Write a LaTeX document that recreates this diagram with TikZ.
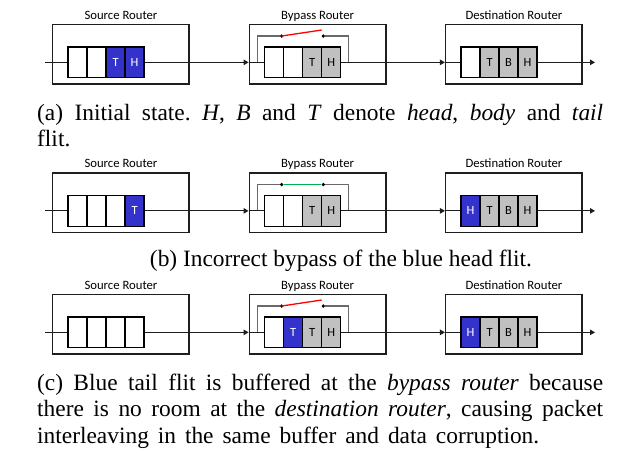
\documentclass[tikz,border=0pt]{standalone}
\usepackage{fontspec}
\setmainfont{Liberation Serif}
\newfontfamily\calib{Carlito}
\usetikzlibrary{arrows.meta}
\frenchspacing
\definecolor{bluef}{RGB}{51,51,204}
\definecolor{greyf}{RGB}{192,192,192}
\definecolor{bypassc}{RGB}{105,105,105}
\definecolor{redsw}{RGB}{255,0,0}
\definecolor{greensw}{RGB}{0,176,80}
\definecolor{linec}{RGB}{30,30,30}
\tikzset{
  routerbox/.style={draw=linec, line width=1.5pt, minimum width=136.5pt, minimum height=59.7pt, inner sep=0pt},
  rtitle/.style={font=\calib\fontsize{12.7}{14}\selectfont, anchor=base, inner sep=0pt},
  cell/.style={draw=black, line width=1.3pt, minimum width=19pt, minimum height=30.7pt, inner sep=0pt, font=\calib\fontsize{12.5}{14}\selectfont},
  mainline/.style={draw=linec, line width=1pt},
  arr/.style={-{Triangle[length=5pt,width=5.5pt]}},
  bypassline/.style={draw=bypassc, line width=1.3pt},
  dot/.style={circle, fill=black, inner sep=0pt, minimum size=3.6pt},
  redline/.style={draw=redsw, line width=1.3pt},
  greenline/.style={draw=greensw, line width=1.5pt},
  captext/.style={font=\fontsize{23.4}{26.7}\selectfont, inner sep=0pt, anchor=base west}
}
% #1 name, #2 left x, #3 dy, #4 title, #5 cells
\newcommand\router[5]{%
  \node[routerbox] (#1) at (#2+68.25, #3+54.15) {};
  \node[rtitle] (#1t) at (#2+68.25, #3+19.3) {#4};
  \foreach \f/\tc/\t [count=\i] in {#5} {
    \node[cell, fill=\f, text=\tc] (#1c\i) at (#2+15.4+9.5+19*\i-19, #3+62.35) {\t};
  }%
}
% bypass path: #1 name, #2 left x, #3 dy, #4 state (0 open, 1 closed)
\newcommand\bypasspath[4]{%
  \coordinate (#1b1) at (#2+8, #3+62.35);
  \coordinate (#1b2) at (#2+99, #3+62.35);
  \node[dot] (#1d1) at (#2+32.4, #3+36) {};
  \node[dot] (#1d2) at (#2+74, #3+36) {};
  \draw[bypassline] (#1b1) |- (#1d1);
  \draw[bypassline] (#1d2) -| (#1b2);
  \ifnum#4=0
    \draw[redline] (#1d1.center) -- ++(40,-6) coordinate (#1s);
  \else
    \draw[greenline] (#1d1) -- (#1d2);
  \fi
}
\newcommand\links[2]{% #1 dy, #2 prefix
  \coordinate (#2in) at (45, #1+62.35);
  \coordinate (#2out) at (595, #1+62.35);
  \draw[mainline] (#2in) -- (#2sc1.west);
  \draw[mainline,arr] (#2sc4.east) -- (#2sc4.east -| #2b.west);
  \draw[mainline] (#2b.west |- #2bc1.west) -- (#2bc1.west);
  \draw[mainline] (#2bc4.east) -- (#2bb2);
  \draw[mainline,arr] (#2bb2) -- (#2bb2 -| #2d.west);
  \draw[mainline] (#2d.west |- #2dc1.west) -- (#2dc1.west);
  \draw[mainline,arr] (#2dc4.east) -- (#2out);
}
\begin{document}
\begin{tikzpicture}[x=1pt,y=-1pt]
\useasboundingbox (0,0) rectangle (640,456);
\fill[white] (0,0) rectangle (640,456);
% ---------- panel (a)
\router{as}{52.7}{0}{Source Router}{white/black/\relax, white/black/\relax, bluef/white/T, bluef/white/H}
\router{ab}{249.3}{0}{Bypass Router}{white/black/\relax, white/black/\relax, greyf/black/T, greyf/black/H}
\router{ad}{445.7}{0}{Destination Router}{white/black/\relax, greyf/black/T, greyf/black/B, greyf/black/H}
\bypasspath{ab}{249.3}{0}{0}
\links{0}{a}
\node[captext] (capa1) at (37,120) {\makebox[566pt][s]{(a) Initial state. \textit{H}, \textit{B} and \textit{T} denote \textit{head}, \textit{body} and \textit{tail}}};
\node[captext] (capa2) at (37,146.7) {flit.};
% ---------- panel (b)
\router{bs}{52.7}{148.5}{Source Router}{white/black/\relax, white/black/\relax, white/black/\relax, bluef/white/T}
\router{bb}{249.3}{148.5}{Bypass Router}{white/black/\relax, white/black/\relax, greyf/black/T, greyf/black/H}
\router{bd}{445.7}{148.5}{Destination Router}{bluef/white/H, greyf/black/T, greyf/black/B, greyf/black/H}
\bypasspath{bb}{249.3}{148.5}{1}
\links{148.5}{b}
\node[captext, anchor=base] (capb) at (341,266.7) {(b) Incorrect bypass of the blue head flit.};
% ---------- panel (c)
\router{cs}{52.7}{270}{Source Router}{white/black/\relax, white/black/\relax, white/black/\relax, white/black/\relax}
\router{cb}{249.3}{270}{Bypass Router}{white/black/\relax, bluef/white/T, greyf/black/T, greyf/black/H}
\router{cd}{445.7}{270}{Destination Router}{bluef/white/H, greyf/black/T, greyf/black/B, greyf/black/H}
\bypasspath{cb}{249.3}{270}{0}
\links{270}{c}
\node[captext] (capc1) at (37,390) {\makebox[566pt][s]{(c) Blue tail flit is buffered at the \textit{bypass router} because}};
\node[captext] (capc2) at (37,416.7) {\makebox[566pt][s]{there is no room at the \textit{destination router}, causing packet}};
\node[captext] (capc3) at (37,443) {\makebox[502pt][s]{interleaving in the same buffer and data corruption.}};
\end{tikzpicture}
\end{document}
